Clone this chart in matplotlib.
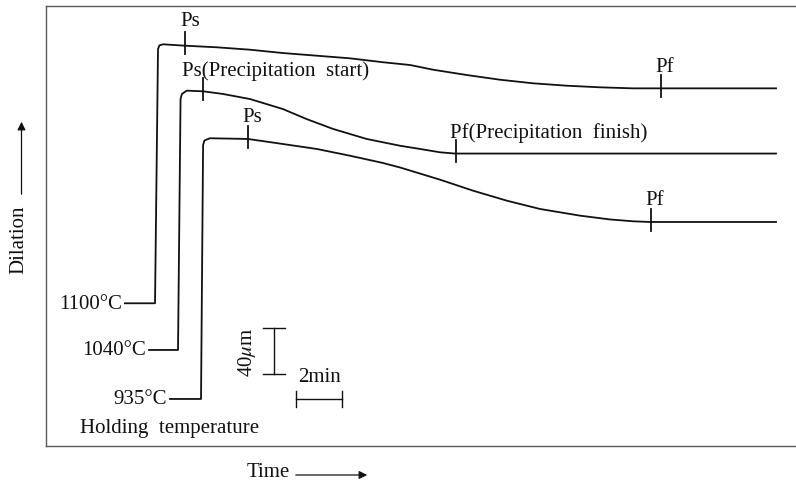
import numpy as np
import matplotlib
matplotlib.use("Agg")
import matplotlib.pyplot as plt
from matplotlib.patches import FancyArrowPatch

plt.rcParams['font.family'] = ['Liberation Serif', 'DejaVu Serif']
plt.rcParams['mathtext.fontset'] = 'stix'

# Isothermal dilation curves: time (min) vs dilation (um, arbitrary offset)
temps = ['1100°C', '1040°C', '935°C']

t_1100 = [3.43, 4.74, 4.87, 4.93, 5.09, 6.04, 7.42, 8.87, 10.3, 11.77, 13.22, 14.65, 15.83,
          16.83, 18.29, 19.74, 21.17, 22.64, 24.09, 25.52, 26.39, 31.74]
d_1100 = [124.1, 124.1, 345.2, 348.3, 349.3, 348.1, 346.7, 344.6, 341.7, 339.4, 337.1, 333.7,
          331.3, 327.2, 322.6, 318.5, 315.4, 313.3, 311.9, 311.0, 311.0, 311.0]

t_1040 = [4.48, 5.74, 5.85, 5.91, 6.12, 6.84, 7.70, 8.87, 10.30, 11.33, 12.48, 13.94, 15.39,
          16.26, 17.13, 17.78, 31.74]
d_1040 = [83.5, 83.5, 301.7, 306.1, 309.0, 308.4, 306.1, 301.7, 293.0, 284.3, 275.7, 267.0,
          261.1, 258.3, 255.4, 254.3, 254.3]

t_935 = [5.39, 6.74, 6.83, 6.89, 7.13, 8.78, 10.30, 11.77, 13.22, 14.65, 15.39, 17.13, 18.57,
         20.04, 21.48, 23.22, 24.52, 25.52, 26.26, 31.74]
d_935 = [40.9, 40.9, 261.7, 265.7, 267.6, 267.0, 262.6, 258.3, 252.4, 246.1, 242.2, 231.6,
         222.0, 213.3, 206.1, 200.3, 197.0, 195.4, 194.8, 194.8]

# precipitation start / finish times (min)
ps_times = [6.04, 6.84, 8.78]
pf_times = [26.74, 17.83, 26.29]
ps_labels = ['Ps', 'Ps(Precipitation  start)', 'Ps']
pf_labels = ['Pf', 'Pf(Precipitation  finish)', 'Pf']

# scale bars
bar_um = 40
bar_min = 2

curves = [(t_1100, d_1100), (t_1040, d_1040), (t_935, d_935)]

fig = plt.figure(figsize=(7.96, 4.85), dpi=100)
ax = fig.add_axes([46 / 796, 38 / 485, 750 / 796, 440 / 485])
ax.set_xlim(0, 750 / 23)
ax.set_ylim(0, 440 / 1.15)
ax.set_xticks([])
ax.set_yticks([])
for side in ('left', 'top', 'bottom'):
    ax.spines[side].set_color('#5a5a5a')
    ax.spines[side].set_linewidth(1.0)
ax.spines['right'].set_visible(False)

fs = 15
ink = '#111111'
lw = 1.3

ps_off = [(-5, 21), (-21, 16), (-6, 18)]
pf_off = [(-6, 17), (-6, 17), (-5, 18)]

for i, (t, d) in enumerate(curves):
    ax.plot(t, d, color=ink, lw=lw, solid_joinstyle='round')
    ax.annotate(temps[i], xy=(t[0], d[0]), xytext=(-3, 0), textcoords='offset pixels',
                ha='right', va='center', fontsize=fs, color=ink)
    for tt, lab, off in ((ps_times[i], ps_labels[i], ps_off[i]),
                         (pf_times[i], pf_labels[i], pf_off[i])):
        dd = np.interp(tt, t, d)
        ax.plot([tt, tt], [dd - 7.5, dd + 11.5], color=ink, lw=lw)
        ax.annotate(lab, xy=(tt, dd), xytext=off, textcoords='offset pixels',
                    ha='left', va='baseline', fontsize=fs, color=ink)

ax.text(1.48, 12.2, 'Holding  temperature', ha='left', va='baseline', fontsize=fs, color=ink)

# vertical scale bar (40 um)
xb, yb = 9.91, 62.6
cap = 0.48
ax.plot([xb, xb], [yb, yb + bar_um], color=ink, lw=1.0)
ax.plot([xb - cap, xb + cap], [yb, yb], color=ink, lw=1.0)
ax.plot([xb - cap, xb + cap], [yb + bar_um, yb + bar_um], color=ink, lw=1.0)
ax.text(8.76, yb + bar_um / 2, r'40$\mu$m', rotation=90, ha='center', va='center',
        fontsize=fs, color=ink)

# horizontal scale bar (2 min)
xh, yh = 10.87, 40.9
ax.plot([xh, xh + bar_min], [yh, yh], color=ink, lw=1.0)
ax.plot([xh, xh], [yh - 7, yh + 7], color=ink, lw=1.0)
ax.plot([xh + bar_min, xh + bar_min], [yh - 7, yh + 7], color=ink, lw=1.0)
ax.text(xh + bar_min / 2, 60, '2min', ha='center', va='center', fontsize=fs, color=ink)

# axis labels with arrows
fig.text(18.5 / 796, 1 - 240 / 485, 'Dilation', rotation=90, ha='center', va='center',
         fontsize=fs, color=ink)
fig.add_artist(FancyArrowPatch(
    (21.5, 485 - 198), (21.5, 485 - 120), transform=None,
    arrowstyle='-|>', mutation_scale=12, lw=0.9, color=ink))

fig.text(268 / 796, 1 - 473 / 485, 'Time', ha='center', va='center', fontsize=fs, color=ink)
fig.add_artist(FancyArrowPatch(
    (293, 485 - 476), (370, 485 - 476), transform=None,
    arrowstyle='-|>', mutation_scale=12, lw=0.9, color=ink))

fig.savefig('out.png', dpi=100, facecolor='white')
